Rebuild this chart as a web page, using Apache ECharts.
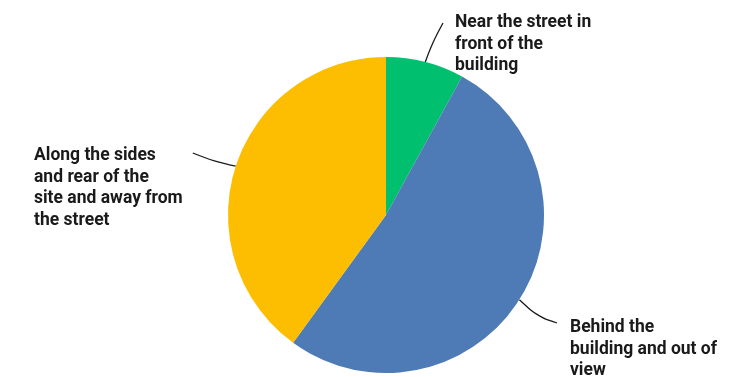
<!DOCTYPE html>
<html>
<head>
<meta charset="utf-8">
<style>
  html, body { margin: 0; padding: 0; background: #ffffff; }
  #chart { width: 752px; height: 377px; }
</style>
<script src="https://cdn.jsdelivr.net/npm/echarts@6/dist/echarts.min.js"></script>
</head>
<body>
<div id="chart"></div>
<script>
// Where respondents prefer the storage area to be placed (share of answers, %)
const categories = [
  'Near the street in front of the building',
  'Behind the building and out of view',
  'Along the sides and rear of the site and away from the street'
];
const shares = [8, 52, 40];
const labelTexts = [
  'Near the street in\nfront of the\nbuilding',
  'Behind the\nbuilding and out of\nview',
  'Along the sides\nand rear of the\nsite and away from\nthe street'
];
const sliceColors = ['#00bf6f', '#4e7ab5', '#fdbd00'];

// Label block placement (top-left corner) and leader-line bends
const labelPlacement = [
  { x: 455, y: 12, end: [-12, 11], bend: [0.4, 0.5] },
  { x: 570, y: 317, end: [-13, 6], bend: [0.5, 0.75] },
  { x: 34, y: 145, end: 'right', bend: [0.5, 0.35] }
];

const chart = echarts.init(document.getElementById('chart'), null, { renderer: 'canvas' });

chart.setOption({
  backgroundColor: '#ffffff',
  animation: false,
  series: [{
    type: 'pie',
    center: [386, 215],
    radius: 158,
    startAngle: 90,
    clockwise: true,
    silent: true,
    data: categories.map((name, i) => ({
      name: name,
      value: shares[i],
      itemStyle: { color: sliceColors[i] },
      label: { formatter: labelTexts[i] }
    })),
    label: {
      show: true,
      position: 'outside',
      color: '#1a1a1a',
      fontFamily: 'Roboto',
      fontWeight: 'bold',
      fontSize: 17.5,
      lineHeight: 21.5
    },
    labelLine: {
      show: true,
      length: 20,
      length2: 20,
      smooth: 0.4,
      lineStyle: { color: '#1a1a1a', width: 1.3 }
    },
    labelLayout: function (params) {
      const p = labelPlacement[params.dataIndex];
      const w = params.labelRect.width;
      const start = params.labelLinePoints[0];
      let end;
      if (p.end === 'right') {
        end = [p.x + w + 10, p.y + 8];
      } else {
        end = [p.x + p.end[0], p.y + p.end[1]];
      }
      const dx = end[0] - start[0], dy = end[1] - start[1];
      const mid = [start[0] + dx * p.bend[0], start[1] + dy * p.bend[1]];
      return {
        x: p.x,
        y: p.y,
        align: 'left',
        verticalAlign: 'top',
        labelLinePoints: [start, mid, end]
      };
    }
  }]
});
</script>
</body>
</html>
